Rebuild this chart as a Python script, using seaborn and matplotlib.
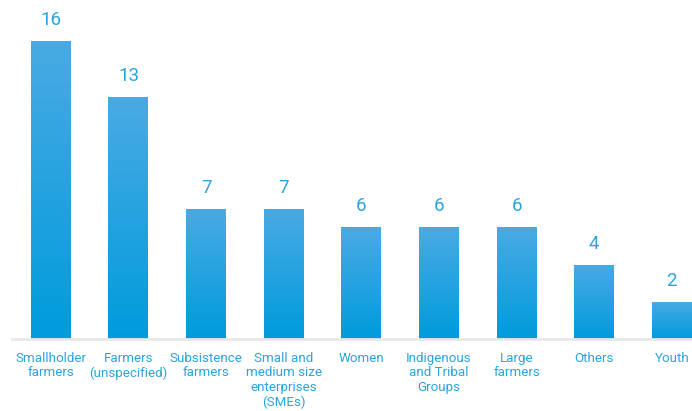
import matplotlib
matplotlib.use("Agg")
import matplotlib.pyplot as plt
import numpy as np
import pandas as pd
import seaborn as sns
from matplotlib.colors import LinearSegmentedColormap

categories = [
    "Smallholder\nfarmers",
    "Farmers\n(unspecified)",
    "Subsistence\nfarmers",
    "Small and\nmedium size\nenterprises\n(SMEs)",
    "Women",
    "Indigenous\nand Tribal\nGroups",
    "Large\nfarmers",
    "Others",
    "Youth",
]
counts = [16, 13, 7, 7, 6, 6, 6, 4, 2]

df = pd.DataFrame({"group": categories, "count": counts})

sns.set_theme(style="white")
plt.rcParams["font.family"] = ["Roboto", "DejaVu Sans"]

text_blue = "#2aa3de"
top_col = "#4aaae3"
bottom_col = "#009bdc"

fig = plt.figure(figsize=(6.92, 4.11), dpi=100)
ax = fig.add_axes([12 / 692, 72 / 411, 680 / 692, 335 / 411])

sns.barplot(data=df, x="group", y="count", color=bottom_col, width=0.515,
            ax=ax, saturation=1)

# vertical gradient fill inside each bar
cmap = LinearSegmentedColormap.from_list("bar_grad", [bottom_col, top_col])
grad = np.linspace(0, 1, 256).reshape(-1, 1)
for patch, val in zip(ax.patches, counts):
    x0 = patch.get_x()
    w = patch.get_width()
    h = patch.get_height()
    im = ax.imshow(grad, cmap=cmap, origin="lower", aspect="auto",
                   extent=[x0, x0 + w, 0, h], zorder=patch.get_zorder() + 0.1)
    im.set_clip_path(patch)
    ax.annotate(f"{val}", (x0 + w / 2, h), xytext=(0, 11.5),
                textcoords="offset points", ha="center", va="baseline",
                color=text_blue, fontsize=13.5)

ax.set_xlim(-0.5, 8.26)
ax.set_ylim(0, 18)

ax.set_xlabel("")
ax.set_ylabel("")
ax.set_yticks([])
ax.tick_params(axis="x", length=0, pad=9.5, labelsize=9.6, colors=text_blue)
for lbl in ax.get_xticklabels():
    lbl.set_linespacing(1.13)
    lbl.set_verticalalignment("top")

for side in ["top", "left", "right"]:
    ax.spines[side].set_visible(False)
ax.spines["bottom"].set_color("#e8e8e8")
ax.spines["bottom"].set_linewidth(2)

fig.savefig("out.png", dpi=100)
